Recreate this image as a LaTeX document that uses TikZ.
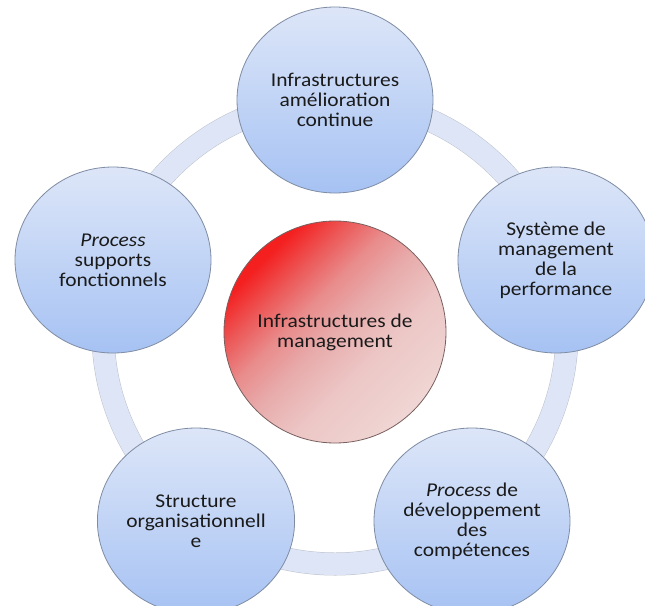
\documentclass[tikz,border=0pt]{standalone}
\usepackage{fontspec}
\setmainfont{Carlito}[FakeStretch=1.1]
\usetikzlibrary{shapes.geometric}
\definecolor{ringc}{HTML}{DDE5F6}
\definecolor{ringsh}{HTML}{BDC2CE}
\definecolor{bluetop}{HTML}{DDE6F8}
\definecolor{bluebot}{HTML}{A6C2F3}
\definecolor{blueedge}{HTML}{7F8CA3}
\definecolor{redtop}{HTML}{F42020}
\definecolor{redmid3}{HTML}{EC5C5C}
\definecolor{redmid2}{HTML}{E98C8C}
\definecolor{redmid}{HTML}{E8ACAC}
\definecolor{redlow}{HTML}{ECC6C5}
\definecolor{redbot}{HTML}{EFD6D4}
\definecolor{rededge}{HTML}{7A5F5F}
\definecolor{txt}{HTML}{1A1A1A}
\pgfdeclareverticalshading{hubshade}{100bp}{color(0bp)=(redbot); color(25bp)=(redbot); color(40bp)=(redlow); color(50bp)=(redmid); color(58bp)=(redmid2); color(65bp)=(redmid3); color(73bp)=(redtop); color(100bp)=(redtop)}
\begin{document}
\begin{tikzpicture}[x=1pt,y=-1pt,
  lbl/.style={align=center, text=txt, font=\fontsize{19.5}{20}\selectfont},
  outer/.style={lbl, ellipse, minimum width=196pt, minimum height=186pt, inner sep=0pt,
    draw=blueedge, line width=0.8pt, top color=bluetop, bottom color=bluebot},
  hub/.style={lbl, circle, minimum size=222pt, inner sep=0pt, draw=rededge, line width=0.8pt,
    shading=hubshade, shading angle=45},
  ringline/.style={line width=22pt, draw=ringc},
  ringshadow/.style={line width=23pt, draw=ringsh}]
\useasboundingbox (0,0) rectangle (645,605);
\fill[white] (0,0) rectangle (645,605);
\coordinate (C) at (335,332);
\draw[ringshadow, yshift=-2pt] (C) circle[radius=232];
\draw[ringline] (C) circle[radius=232];
\node[hub] (hub) at (C) {Infrastructures de\\management};
\node[outer] (top) at (335,100) {Infrastructures\\amélioration\\continue};
\node[outer] (right) at (556,260) {Système de\\management\\de la\\performance};
\node[outer] (left) at (113,260) {\textit{Process}\\supports\\fonctionnels};
\node[outer] (br) at (472,521) {\textit{Process} de\\développement\\des\\compétences};
\node[outer] (bl) at (196,521) {Structure\\organisationnell\\e};
\end{tikzpicture}
\end{document}
